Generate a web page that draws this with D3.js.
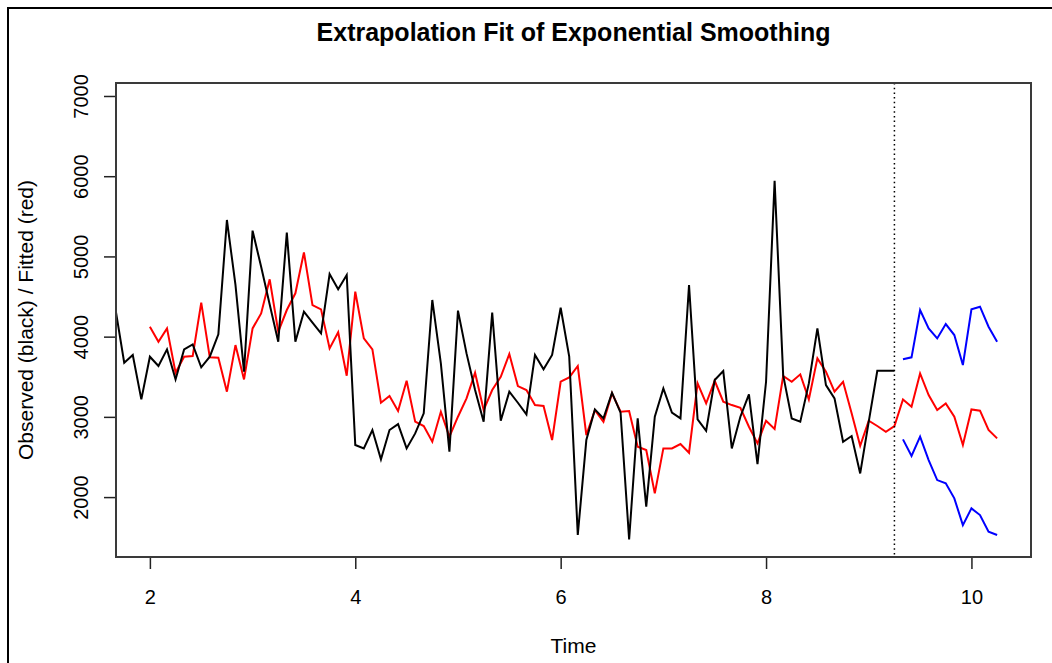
<!DOCTYPE html>
<html><head><meta charset="utf-8">
<script src="https://cdn.jsdelivr.net/npm/d3@7"></script>
<style>
body{margin:0;background:#fff;}
svg{display:block;}
text{font-family:"Liberation Sans",Arial,Helvetica,sans-serif;fill:#000;}
</style>
</head><body>
<svg id="chart" width="1052" height="663"></svg>
<script>
// ---- data (monthly series, frequency 12) ----
const frequency = 12;
const observedStart = 1 + 8 / 12;   // first observed month inside the window
const fittedStart = 2;              // fitted values start one season later
const observed = [
  4330, 3675, 3771, 3218,
  3750, 3634, 3841, 3467, 3841, 3904, 3617, 3750, 4028, 5454, 4644, 3563,
  5321, 4870, 4400, 3937, 5296, 3937, 4311, 4174, 4041, 4781, 4590, 4768,
  2649, 2607, 2836, 2470, 2836, 2910, 2607, 2794, 3044, 4457, 3667, 2566,
  4324, 3791, 3334, 2940, 4299, 2952, 3314, 3176, 3031, 3771, 3592, 3771,
  4360, 3750, 1527, 2711, 3093, 2981, 3301, 3052, 1472, 2981, 1880, 3002,
  3355, 3052, 2981, 4644, 2969, 2827, 3459, 3571, 2607, 3002, 3280, 2412,
  3438, 5944, 3521, 2981, 2940, 3417, 4103, 3396, 3231, 2690, 2761, 2295,
  2940, 3575, 3575, 3575
];
const fitted = [
  4124, 3937, 4103, 3550, 3750, 3758, 4423, 3742, 3738, 3314, 3895, 3467,
  4103, 4290, 4714, 4062, 4332, 4540, 5051, 4394, 4340, 3854, 4054, 3513,
  4560, 3979, 3841, 3176, 3260, 3073, 3451, 2940, 2886, 2690, 3064, 2753,
  3002, 3231, 3550, 3085, 3334, 3500, 3783, 3384, 3334, 3147, 3135, 2711,
  3438, 3492, 3634, 2773, 3085, 2940, 3293, 3064, 3073, 2628, 2586, 2046,
  2607, 2607, 2661, 2553, 3417, 3168, 3450, 3189, 3147, 3114, 2877, 2670,
  2952, 2848, 3509, 3438, 3530, 3218, 3729, 3563, 3314, 3438, 3044, 2640,
  2952, 2886, 2815, 2886
];
const predicted = [3218, 3127, 3542, 3272, 3085, 3168, 3002, 2649, 3093, 3077, 2836, 2732];
const upper     = [3717, 3742, 4332, 4103, 3978, 4157, 4020, 3646, 4340, 4373, 4124, 3937];
const lower     = [2719, 2512, 2753, 2462, 2212, 2171, 1984, 1651, 1859, 1776, 1568, 1527];
const observedPeakBeforeWindow = 6943; // early observation outside the drawn time window
const xTicks = [2, 4, 6, 8, 10];
const yTicks = [2000, 3000, 4000, 5000, 6000, 7000];
const title = "Extrapolation Fit of Exponential Smoothing";
const xTitle = "Time";
const yTitle = "Observed (black) / Fitted (red)";

// ---- build series ----
const obsPts = observed.map((v, i) => [observedStart + i / frequency, v]);
const fitPred = fitted.concat(predicted);
const fitPts = fitPred.map((v, i) => [fittedStart + i / frequency, v]);
const upPts = upper.map((v, i) => [fittedStart + (fitted.length + i) / frequency, v]);
const loPts = lower.map((v, i) => [fittedStart + (fitted.length + i) / frequency, v]);
const lastObsTime = obsPts[obsPts.length - 1][0];

// R-style ranges with 4% expansion
const expand = ([a, b]) => { const d = (b - a) * 0.04; return [a - d, b + d]; };
const xr = expand([fittedStart, fitPts[fitPts.length - 1][0]]);
const yr = expand(d3.extent(observed.concat(fitPred, upper, lower, [observedPeakBeforeWindow])));

const W = 1052, H = 663;
const box = {left: 116, right: 1031, top: 83, bottom: 557};
const x = d3.scaleLinear().domain(xr).range([box.left, box.right]);
const y = d3.scaleLinear().domain(yr).range([box.bottom, box.top]);

const svg = d3.select("#chart");
svg.append("rect").attr("width", W).attr("height", H).attr("fill", "#fff");
// outer frame
svg.append("path").attr("d", `M8,${H + 5}V8H${W + 5}`).attr("fill", "none")
  .attr("stroke", "#000").attr("stroke-width", 2);

svg.append("defs").append("clipPath").attr("id", "clip").append("rect")
  .attr("x", box.left).attr("y", box.top)
  .attr("width", box.right - box.left).attr("height", box.bottom - box.top);

const line = d3.line().x(d => x(d[0])).y(d => y(d[1]));
const g = svg.append("g").attr("clip-path", "url(#clip)");
g.append("path").datum(fitPts).attr("d", line).attr("fill", "none").attr("stroke", "#ff0000").attr("stroke-width", 2);
g.append("path").datum(upPts).attr("d", line).attr("fill", "none").attr("stroke", "#0000ff").attr("stroke-width", 2);
g.append("path").datum(loPts).attr("d", line).attr("fill", "none").attr("stroke", "#0000ff").attr("stroke-width", 2);
g.append("path").datum(obsPts).attr("d", line).attr("fill", "none").attr("stroke", "#000").attr("stroke-width", 2);
g.append("line").attr("x1", x(lastObsTime)).attr("x2", x(lastObsTime))
  .attr("y1", box.top).attr("y2", box.bottom)
  .attr("stroke", "#000").attr("stroke-width", 1.5).attr("stroke-dasharray", "1.5,3.2");

// axes
const xAxis = d3.axisBottom(x).tickValues(xTicks).tickSize(12).tickPadding(8).tickFormat(d3.format("d"));
const xg = svg.append("g").attr("transform", `translate(0,${box.bottom})`).call(xAxis);
xg.select(".domain").remove();
xg.selectAll("line").attr("stroke", "#222").attr("stroke-width", 1.5);
xg.selectAll("text").attr("font-size", 20).attr("font-family", "Liberation Sans, Arial, sans-serif")
  .attr("dy", null).attr("y", 47);

const yAxis = d3.axisLeft(y).tickValues(yTicks).tickSize(12).tickFormat(d3.format("d"));
const yg = svg.append("g").attr("transform", `translate(${box.left},0)`).call(yAxis);
yg.select(".domain").remove();
yg.selectAll("line").attr("stroke", "#222").attr("stroke-width", 1.5);
yg.selectAll("text").attr("font-size", 20).attr("font-family", "Liberation Sans, Arial, sans-serif")
  .attr("x", null).attr("dy", null).attr("text-anchor", "middle")
  .attr("transform", "translate(-28,0) rotate(-90)");

// box
svg.append("rect").attr("x", box.left).attr("y", box.top)
  .attr("width", box.right - box.left).attr("height", box.bottom - box.top)
  .attr("fill", "none").attr("stroke", "#3a3a3a").attr("stroke-width", 2);

// titles
svg.append("text").attr("x", (box.left + box.right) / 2).attr("y", 41)
  .attr("text-anchor", "middle").attr("font-weight", "bold").attr("font-size", 25).text(title);
svg.append("text").attr("x", (box.left + box.right) / 2).attr("y", 653)
  .attr("text-anchor", "middle").attr("font-size", 21).text(xTitle);
svg.append("text").attr("transform", `translate(33,${(box.top + box.bottom) / 2}) rotate(-90)`)
  .attr("text-anchor", "middle").attr("font-size", 21).text(yTitle);
</script>
</body></html>
